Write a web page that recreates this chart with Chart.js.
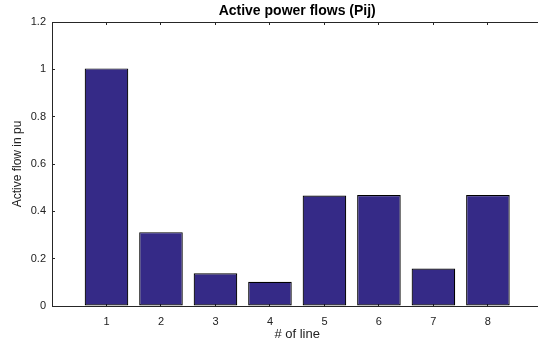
<!DOCTYPE html>
<html>
<head>
<meta charset="utf-8">
<script src="https://cdn.jsdelivr.net/npm/chart.js@4.4.0/dist/chart.umd.min.js"></script>
<style>
  html, body { margin: 0; padding: 0; background: #fff; overflow: hidden; }
  #wrap { width: 546px; height: 343px; }
</style>
</head>
<body>
<div id="wrap"><canvas id="flowChart" width="546" height="343"></canvas></div>
<script>
// Data for the chart
const lineNumbers = [1, 2, 3, 4, 5, 6, 7, 8];
const activeFlow = [1.004, 0.312, 0.138, 0.102, 0.467, 0.469, 0.158, 0.469];
const yTicks = [0, 0.2, 0.4, 0.6, 0.8, 1, 1.2];

const FONT = '"Liberation Sans", Arial, Helvetica, sans-serif';
const AXIS = '#262626';

// axis line + short ticks pointing into the plot (MATLAB box look)
const frame = {
    border: { display: true, color: AXIS, width: 1 },
    grid: { display: true, offset: false, drawOnChartArea: false, drawTicks: true, tickLength: -3, color: AXIS, lineWidth: 1 }
};

const ctx = document.getElementById('flowChart').getContext('2d');
const flowChart = new Chart(ctx, {
    type: 'bar',
    data: {
        datasets: [{
            data: lineNumbers.map((n, i) => ({ x: n, y: activeFlow[i] })),
            backgroundColor: '#352a87',
            borderColor: '#000',
            borderWidth: 1.2,
            borderSkipped: false,
            barPercentage: 0.8,
            categoryPercentage: 1
        }]
    },
    options: {
        responsive: false,
        animation: false,
        layout: { padding: { left: 0, right: 3.6, top: 0, bottom: 0 } },
        plugins: {
            legend: { display: false },
            tooltip: { enabled: false },
            title: {
                display: true,
                text: 'Active power flows (Pij)',
                fullSize: false,
                color: '#000',
                font: { family: FONT, size: 14, weight: 'bold', lineHeight: 1.2 },
                padding: { top: 2.6, bottom: 2.6 }
            }
        },
        scales: {
            x: {
                type: 'linear',
                min: 0,
                max: 9,
                offset: false,
                ...frame,
                afterBuildTicks: s => { s.ticks = lineNumbers.map(v => ({ value: v })); },
                afterFit: s => { s.height = 37; },
                ticks: {
                    color: '#222',
                    padding: 12,
                    maxRotation: 0,
                    font: { family: FONT, size: 11 }
                },
                title: {
                    display: true,
                    text: '# of line',
                    color: '#222',
                    font: { family: FONT, size: 13 },
                    padding: { top: 0, bottom: 1 }
                }
            },
            xTop: {
                type: 'linear',
                position: 'top',
                min: 0,
                max: 9,
                offset: false,
                ...frame,
                afterBuildTicks: s => { s.ticks = lineNumbers.map(v => ({ value: v })); },
                afterFit: s => { s.height = 0; },
                ticks: { display: false }
            },
            y: {
                min: 0,
                max: 1.2,
                ...frame,
                afterBuildTicks: s => { s.ticks = yTicks.map(v => ({ value: v })); },
                afterFit: s => { s.width = 52; },
                ticks: {
                    color: '#222',
                    padding: 9,
                    font: { family: FONT, size: 11 },
                    callback: v => String(+v.toFixed(1))
                },
                title: {
                    display: true,
                    text: 'Active flow in pu',
                    color: '#222',
                    font: { family: FONT, size: 12 },
                    padding: { top: 10, bottom: 0 }
                }
            },
            yRight: {
                position: 'right',
                min: 0,
                max: 1.2,
                ...frame,
                afterBuildTicks: s => { s.ticks = yTicks.map(v => ({ value: v })); },
                afterFit: s => { s.width = 0; },
                ticks: { display: false }
            }
        }
    }
});
</script>
</body>
</html>
